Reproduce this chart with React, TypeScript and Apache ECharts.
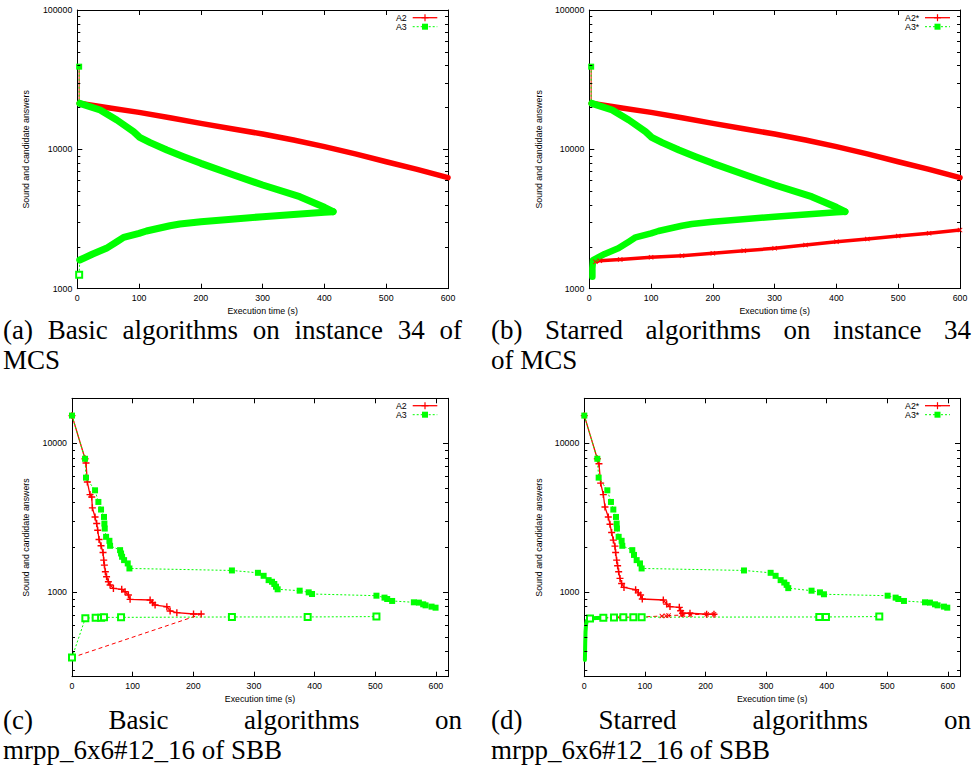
import React, { useEffect, useRef } from 'react';
import * as echarts from 'echarts';

// ---------- (a)/(b): instance 34 of MCS ----------
const mcsStart = [[3,39200],[3,21400]];
const mcsA2Band = [[3,21400],[50,19900],[100,18430],[150,16870],[200,15360],[250,14060],[300,12880],[350,11660],[400,10450],[450,9270],[500,8150],[550,7190],[600,6260]];
const mcsA3Band = [[4,21380],[37,19160],[64,16240],[91,13390],[101,12200],[118,11170],[145,9890],[172,8860],[200,7936],[253,6545],[300,5546],[360,4576],[400,3837],[414,3572]];
const mcsA3SoundStart = [[3,1259],[4,1606]];
const mcsA3SoundBand = [[4,1606],[25,1775],[47,1948],[64,2174],[75,2337],[100,2495],[112,2594],[150,2830],[166,2911],[200,3026],[300,3287],[400,3531],[414,3572]];
const mcsA2Sound = [[3,1259]];
const mcsA2StarSound = [[10,1560],[17,1589],[50,1623],[100,1679],[150,1726],[200,1794],[250,1875],[300,1948],[350,2056],[400,2174],[450,2270],[500,2387],[550,2495],[600,2636]];
const mcsA3StarSoundBand = [[5,1220],[5,1400],[6,1606],[25,1775],[47,1948],[64,2174],[75,2337],[100,2495],[112,2594],[150,2830],[166,2911],[200,3026],[300,3287],[400,3531],[414,3572]];

// ---------- (c)/(d): mrpp_6x6#12_16 of SBB ----------
const sbbA2Cand = [[0,15310],[21.5,7850],[23.1,7350],[25.3,5480],[29.7,4510],[32.5,4350],[33.6,3675],[38,3190],[40.7,2884],[42.4,2600],[44.6,2255],[47.9,2044],[51.2,1843],[52.3,1637],[53.4,1517],[55,1368],[57,1266],[60,1172],[62.8,1114],[68.3,1058],[82,1042],[87.5,1005],[93,955],[95.8,893],[128.8,884],[133,848],[137,818],[156.4,797],[161.8,746],[172.9,727],[200.4,712],[213,712]];
const sbbA3Cand = [[0,15310],[21.5,7850],[23.1,5865],[38,4820],[43.5,4027],[47.9,3580],[52.8,3193],[53.4,2883],[54,2669],[56.2,2348],[61.7,2208],[62.8,2044],[79.3,1911],[80.9,1815],[82.6,1725],[85.9,1638],[91.9,1556],[94.7,1440],[263.7,1396],[306.6,1346],[316,1285],[324.2,1202],[329.8,1172],[333.6,1132],[336.4,1086],[339.1,1043],[375.4,1021],[390.3,995],[395.8,970],[502,945],[515.3,917],[519.7,898],[527.9,871],[563.7,853],[572,849],[579.1,827],[583,814],[592.9,798],[599.5,785]];
const sbbA2Sound = [[0,363],[211,705]];
const sbbA3Sound = [[0,363],[22,667],[39,673],[48,673],[52.8,676],[80.9,676],[263.7,680],[388.6,680],[502,684]];
const sbbA2StarCand = [[0,15310],[21.5,7850],[24.2,7270],[27,5390],[31.4,4510],[34.1,3720],[39.6,3190],[42.4,2850],[45.1,2510],[47.9,2232],[50.6,2033],[51.7,1843],[53.4,1637],[55,1500],[56.7,1368],[58.9,1235],[61.6,1141],[65.5,1074],[84.7,1036],[89.1,987],[92.9,955],[95.7,898],[130.4,884],[135.9,830],[141.4,798],[156.8,789],[159,748],[162.3,720],[174.4,720],[201.9,709],[214,709]];
const sbbA3StarCand = [[0,15310],[21.5,7850],[23.7,5865],[38,4820],[44,4027],[47.9,3580],[52.3,3193],[53.4,2883],[53.9,2669],[56.7,2348],[61.6,2208],[62.7,2044],[79.2,1911],[82,1775],[86.4,1638],[91.9,1556],[94.6,1440],[263.5,1396],[307.5,1346],[315.7,1285],[324,1202],[330,1158],[333.9,1117],[336.6,1062],[375,1021],[388.9,995],[395.5,966],[500.6,945],[513.8,917],[518.2,898],[527.5,871],[562.2,853],[570.4,849],[578.7,827],[583,814],[593.5,798],[599,785]];
const sbbA2StarSound = [[10,660],[30,670],[56,676],[95,680],[128,690],[135,692],[139,695],[160,700],[163,703],[175,705],[202,709],[214,709]];
const sbbA3StarSoundDense = [[1,350],[1.5,450],[2,540],[3,610],[4,640],[6,652],[9.4,663],[20,669],[35,672]];
const sbbA3StarSound = [[9.4,663],[31.4,673],[49,674],[64.4,676],[80.9,676],[94.6,678],[387.8,680],[398.8,680],[486.8,684]];

// ---------- ticks and labels ----------
const xTicks = [0, 100, 200, 300, 400, 500, 600];
const yMajorMcs = [1000, 10000, 100000];
const yMinorMcs = [2000, 3000, 4000, 5000, 6000, 7000, 8000, 9000, 20000, 30000, 40000, 50000, 60000, 70000, 80000, 90000];
const yMajorSbb = [1000, 10000];
const yMinorSbb = [300, 400, 500, 600, 700, 800, 900, 2000, 3000, 4000, 5000, 6000, 7000, 8000, 9000];
const legendBasic = ['A2', 'A3'];
const legendStar = ['A2*', 'A3*'];
const xTitle = 'Execution time (s)';
const yTitle = 'Sound and candidate answers';

const FONT = '"Liberation Sans", Arial, sans-serif';
const SERIF = '"Liberation Serif", "Times New Roman", serif';
const RED = '#ff0000';
const GREEN = '#00ff00';
const FS = 8.8;
const PLUS = 'path://M-1,-0.2H-0.2V-1H0.2V-0.2H1V0.2H0.2V1H-0.2V0.2H-1Z';
const CROSS = 'path://M-1,-0.75L-0.75,-1L0,-0.25L0.75,-1L1,-0.75L0.25,0L1,0.75L0.75,1L0,0.25L-0.75,1L-1,0.75L-0.25,0Z';

const panels = [
  { grid: { left: 77.3, top: 10, width: 370.7, height: 278.7 }, xMax: 600, yMin: 1000, yMax: 100000, yMajor: yMajorMcs, yMinor: yMinorMcs, yNameGap: 47, names: legendBasic, leg: { right: 406.7, x1: 412.7, x2: 437.3, y1: 17.7, y2: 26.7 } },
  { grid: { left: 589.3, top: 10, width: 370.7, height: 278.7 }, xMax: 600, yMin: 1000, yMax: 100000, yMajor: yMajorMcs, yMinor: yMinorMcs, yNameGap: 46, names: legendStar, leg: { right: 919.3, x1: 925, x2: 950, y1: 17.7, y2: 26.7 } },
  { grid: { left: 72, top: 398.3, width: 376, height: 278.4 }, xMax: 620, yMin: 270, yMax: 20000, yMajor: yMajorSbb, yMinor: yMinorSbb, yNameGap: 42, names: legendBasic, leg: { right: 406.7, x1: 412.7, x2: 437.3, y1: 405.7, y2: 414.7 } },
  { grid: { left: 584.3, top: 398.3, width: 375.7, height: 278.4 }, xMax: 620, yMin: 270, yMax: 20000, yMajor: yMajorSbb, yMinor: yMinorSbb, yNameGap: 41, names: legendStar, leg: { right: 919.3, x1: 925, x2: 950, y1: 405.7, y2: 414.7 } },
];

const captions = [
  { words: ['(a)', 'Basic', 'algorithms', 'on', 'instance', '34', 'of'], left: 3, right: 462, y: 330, line2: 'MCS', y2: 360 },
  { words: ['(b)', 'Starred', 'algorithms', 'on', 'instance', '34'], left: 491, right: 971, y: 330, line2: 'of MCS', y2: 360 },
  { words: ['(c)', 'Basic', 'algorithms', 'on'], left: 3, right: 462, y: 720, line2: 'mrpp_6x6#12_16 of SBB', y2: 750 },
  { words: ['(d)', 'Starred', 'algorithms', 'on'], left: 491, right: 971, y: 720, line2: 'mrpp_6x6#12_16 of SBB', y2: 750 },
];

const CAP_FS = 27;

function measure(text: string, font: string): number {
  const c = document.createElement('canvas').getContext('2d') as CanvasRenderingContext2D;
  c.font = font;
  return c.measureText(text).width;
}

function lineSeries(gi: number, name: string, data: number[][], o: any) {
  return {
    type: 'line',
    name,
    data,
    xAxisIndex: 2 * gi,
    yAxisIndex: 2 * gi,
    symbol: o.symbol || 'none',
    symbolSize: o.symbolSize || 0,
    showSymbol: true,
    clip: false,
    silent: true,
    lineStyle: { color: o.color, width: o.width || 1, type: o.type || 'solid', cap: o.cap || 'butt', join: 'round' },
    itemStyle: { color: o.color, borderColor: o.color, borderWidth: o.borderWidth || 0 },
    z: o.z || 2,
  };
}

function minorTickSeries(gi: number, values: number[]) {
  return {
    type: 'custom',
    xAxisIndex: 2 * gi,
    yAxisIndex: 2 * gi,
    silent: true,
    clip: false,
    z: 5,
    data: values.map((v) => [0, v]),
    renderItem: (params: any, api: any) => {
      const cs = params.coordSys;
      const y = Math.round(api.coord([0, api.value(1)])[1]) + 0.5;
      const xl = cs.x;
      const xr = cs.x + cs.width;
      return {
        type: 'group',
        children: [
          { type: 'line', shape: { x1: xl, y1: y, x2: xl + 3, y2: y }, style: { stroke: '#000', lineWidth: 1 } },
          { type: 'line', shape: { x1: xr - 3, y1: y, x2: xr, y2: y }, style: { stroke: '#000', lineWidth: 1 } },
        ],
      };
    },
  };
}

const firstOnly = (size: number) => (_v: any, p: any) => (p.dataIndex === 0 ? size : 0);

export default function App() {
  const ref = useRef<HTMLDivElement>(null);
  useEffect(() => {
    if (!ref.current) return;
    const chart = echarts.init(ref.current, null, { renderer: 'svg' });

    const axisLine = { show: true, onZero: false, lineStyle: { color: '#000', width: 1 } };
    const tickLine = { color: '#000', width: 1 };
    const labelStyle = { fontSize: FS, fontFamily: FONT, color: '#000' };

    const xAxis: any[] = [];
    const yAxis: any[] = [];
    const grid: any[] = [];
    panels.forEach((p, i) => {
      grid.push({ ...p.grid, containLabel: false, show: false });
      const xb = { gridIndex: i, type: 'value', min: 0, max: p.xMax, interval: 100, axisLine, splitLine: { show: false } };
      xAxis.push({
        ...xb, position: 'bottom',
        axisTick: { show: true, inside: true, length: 5, lineStyle: tickLine, customValues: xTicks },
        axisLabel: { show: true, customValues: xTicks, formatter: (v: number) => String(v), margin: 5, ...labelStyle },
        name: xTitle, nameLocation: 'middle', nameGap: 18, nameTextStyle: labelStyle,
      });
      xAxis.push({
        ...xb, position: 'top',
        axisTick: { show: true, inside: true, length: 5, lineStyle: tickLine, customValues: xTicks },
        axisLabel: { show: false },
      });
      const yb = { gridIndex: i, type: 'log', logBase: 10, min: p.yMin, max: p.yMax, splitLine: { show: false } };
      yAxis.push({
        ...yb, position: 'left', axisLine,
        axisTick: { show: true, inside: true, length: 5, lineStyle: tickLine, customValues: p.yMajor },
        axisLabel: { show: true, customValues: p.yMajor, formatter: (v: number) => String(Math.round(v)), margin: 5, ...labelStyle },
        name: yTitle, nameLocation: 'middle', nameRotate: 90, nameGap: p.yNameGap, nameTextStyle: labelStyle,
      });
      yAxis.push({
        ...yb, position: 'right', axisLine,
        axisTick: { show: true, inside: true, length: 5, lineStyle: tickLine, customValues: p.yMajor },
        axisLabel: { show: false },
      });
    });

    const series: any[] = [
      // (a)
      lineSeries(0, 'A2', mcsStart, { color: RED, width: 1 }),
      lineSeries(0, 'A2', mcsA2Band, { color: RED, width: 5.5, cap: 'round' }),
      lineSeries(0, 'A2', mcsA2Sound, { color: RED, symbol: 'circle', symbolSize: 3 }),
      lineSeries(0, 'A3', mcsStart, { color: GREEN, width: 1, type: [2, 2], symbol: 'rect', symbolSize: firstOnly(6) }),
      lineSeries(0, 'A3', mcsA3Band, { color: GREEN, width: 7, cap: 'round' }),
      lineSeries(0, 'A3', mcsA3SoundStart, { color: GREEN, width: 1, type: [2, 2], symbol: 'emptyRect', symbolSize: firstOnly(6), borderWidth: 1 }),
      lineSeries(0, 'A3', mcsA3SoundBand, { color: GREEN, width: 7, cap: 'round' }),
      // (b)
      lineSeries(1, 'A2*', mcsStart, { color: RED, width: 1 }),
      lineSeries(1, 'A2*', mcsA2Band, { color: RED, width: 5.5, cap: 'round' }),
      lineSeries(1, 'A2*', mcsA2StarSound, { color: RED, width: 3.5, symbol: CROSS, symbolSize: 5 }),
      lineSeries(1, 'A3*', mcsStart, { color: GREEN, width: 1, type: [2, 2], symbol: 'rect', symbolSize: firstOnly(6) }),
      lineSeries(1, 'A3*', mcsA3Band, { color: GREEN, width: 7, cap: 'round' }),
      lineSeries(1, 'A3*', mcsA3StarSoundBand, { color: GREEN, width: 6.5, cap: 'round' }),
      // (c)
      lineSeries(2, 'A2', sbbA2Sound, { color: RED, type: [4, 3] }),
      lineSeries(2, 'A2', sbbA2Cand, { color: RED, width: 1.3, symbol: PLUS, symbolSize: 7 }),
      lineSeries(2, 'A3', sbbA3Sound, { color: GREEN, type: [2, 2], symbol: 'emptyRect', symbolSize: 6, borderWidth: 1.2 }),
      lineSeries(2, 'A3', sbbA3Cand, { color: GREEN, type: [2, 2], symbol: 'rect', symbolSize: 6 }),
      // (d)
      lineSeries(3, 'A2*', sbbA2StarSound, { color: RED, type: [4, 3], symbol: CROSS, symbolSize: 5 }),
      lineSeries(3, 'A2*', sbbA2StarCand, { color: RED, width: 1.3, symbol: PLUS, symbolSize: 7 }),
      lineSeries(3, 'A3*', sbbA3StarSoundDense, { color: GREEN, width: 4, cap: 'round' }),
      lineSeries(3, 'A3*', sbbA3StarSound, { color: GREEN, type: [2, 2], symbol: 'emptyRect', symbolSize: 6, borderWidth: 1.2 }),
      lineSeries(3, 'A3*', sbbA3StarCand, { color: GREEN, type: [2, 2], symbol: 'rect', symbolSize: 6 }),
    ];
    panels.forEach((p, i) => series.push(minorTickSeries(i, p.yMinor)));

    const graphic: any[] = [];
    panels.forEach((p) => {
      const L = p.leg;
      const xm = (L.x1 + L.x2) / 2;
      graphic.push({ type: 'text', x: L.right, y: L.y1, style: { text: p.names[0], fontSize: FS, fontFamily: FONT, fill: '#000', align: 'right', verticalAlign: 'middle' } });
      graphic.push({ type: 'text', x: L.right, y: L.y2, style: { text: p.names[1], fontSize: FS, fontFamily: FONT, fill: '#000', align: 'right', verticalAlign: 'middle' } });
      graphic.push({ type: 'line', shape: { x1: L.x1, y1: L.y1, x2: L.x2, y2: L.y1 }, style: { stroke: RED, lineWidth: 1.3 } });
      graphic.push({ type: 'rect', shape: { x: xm - 3.5, y: L.y1 - 0.6, width: 7, height: 1.2 }, style: { fill: RED } });
      graphic.push({ type: 'rect', shape: { x: xm - 0.6, y: L.y1 - 3.5, width: 1.2, height: 7 }, style: { fill: RED } });
      graphic.push({ type: 'line', shape: { x1: L.x1, y1: L.y2, x2: L.x2, y2: L.y2 }, style: { stroke: GREEN, lineWidth: 1, lineDash: [2, 2] } });
      graphic.push({ type: 'rect', shape: { x: xm - 3, y: L.y2 - 3, width: 6, height: 6 }, style: { fill: GREEN } });
    });

    const capFont = `${CAP_FS}px ${SERIF}`;
    captions.forEach((c) => {
      const widths = c.words.map((w) => measure(w, capFont));
      const total = widths.reduce((a, b) => a + b, 0);
      const gap = (c.right - c.left - total) / (c.words.length - 1);
      let x = c.left;
      c.words.forEach((w, k) => {
        graphic.push({ type: 'text', x, y: c.y, style: { text: w, fontSize: CAP_FS, fontFamily: SERIF, fill: '#000', align: 'left', verticalAlign: 'middle' } });
        x += widths[k] + gap;
      });
      graphic.push({ type: 'text', x: c.left, y: c.y2, style: { text: c.line2, fontSize: CAP_FS, fontFamily: SERIF, fill: '#000', align: 'left', verticalAlign: 'middle' } });
    });

    chart.setOption({
      animation: false,
      backgroundColor: '#fff',
      textStyle: { fontFamily: FONT },
      grid,
      xAxis,
      yAxis,
      series,
      graphic,
    });
    return () => chart.dispose();
  }, []);

  return <div ref={ref} style={{ position: 'absolute', left: 0, top: 0, width: 978, height: 767, background: '#fff' }} />;
}
